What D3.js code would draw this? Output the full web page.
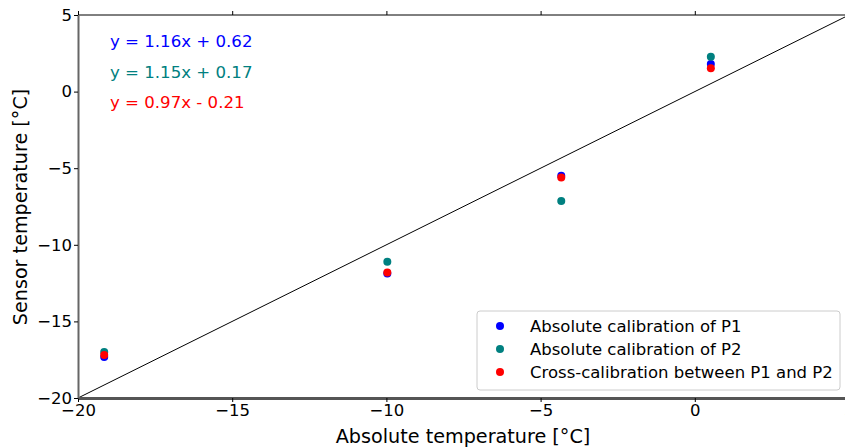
<!DOCTYPE html>
<html><head><meta charset="utf-8">
<script src="https://cdn.jsdelivr.net/npm/d3@7"></script>
<style>body{margin:0;background:#fff;overflow:hidden}svg{display:block}</style>
</head><body>
<script>
const xRefs = [-19.15, -9.97, -4.33, 0.52];
const p1Values = [-17.32, -11.87, -5.5, 1.8];
const p2Values = [-17.0, -11.1, -7.14, 2.28];
const crossValues = [-17.19, -11.8, -5.6, 1.52];
const seriesNames = ["Absolute calibration of P1", "Absolute calibration of P2", "Cross-calibration between P1 and P2"];
const seriesColors = ["#0000ff", "#008080", "#ff0000"];
const fitLabels = ["y = 1.16x + 0.62", "y = 1.15x + 0.17", "y = 0.97x - 0.21"];
const xTicks = [-20, -15, -10, -5, 0, 5];
const yTicks = [-20, -15, -10, -5, 0, 5];

const W = 845, H = 448;
const L = 78, R = 849, T = 15, B = 398;
const font = "DejaVu Sans, sans-serif";
const svg = d3.select("body").append("svg").attr("width", W).attr("height", H);
const x = d3.scaleLinear().domain([-20, 5]).range([L, R]);
const y = d3.scaleLinear().domain([-20, 5]).range([B, T]);
const fmt = d => (d < 0 ? "\u2212" + Math.abs(d) : String(d));

// diagonal y = x
svg.append("line").attr("x1", x(-20)).attr("y1", y(-20)).attr("x2", x(5)).attr("y2", y(5))
  .attr("stroke", "#000").attr("stroke-width", 1);

// points
const series = [p1Values, p2Values, crossValues];
series.forEach((vals, i) => {
  svg.append("g").selectAll("circle").data(vals).join("circle")
    .attr("cx", (d, j) => x(xRefs[j])).attr("cy", d => y(d)).attr("r", 4)
    .attr("fill", seriesColors[i]);
});

// top spine
svg.append("line").attr("x1", L).attr("x2", R).attr("y1", T).attr("y2", T).attr("stroke", "#000").attr("stroke-width", 1);
const xa = d3.axisBottom(x).tickValues(xTicks).tickFormat(fmt).tickSize(4).tickSizeOuter(0);
const gx = svg.append("g").attr("transform", `translate(0,${B})`).call(xa);
gx.select(".domain").attr("stroke", "#555").attr("stroke-width", 3);
gx.selectAll(".tick line").attr("stroke", "#000");
gx.selectAll("text").attr("font-family", font).attr("font-size", 16.5).attr("fill", "#000").attr("dy", "0.75em").attr("y", 6);
const ya = d3.axisLeft(y).tickValues(yTicks).tickFormat(fmt).tickSize(4).tickSizeOuter(0);
const gy = svg.append("g").attr("transform", `translate(${L},0)`).call(ya);
gy.select(".domain").attr("stroke", "#666").attr("stroke-width", 2);
gy.selectAll(".tick line").attr("stroke", "#000");
gy.selectAll("text").attr("font-family", font).attr("font-size", 16.5).attr("fill", "#000").attr("x", -6);
const xt = d3.axisTop(x).tickValues(xTicks).tickFormat("").tickSize(4).tickSizeOuter(0);
const gt = svg.append("g").attr("transform", `translate(0,${T})`).call(xt);
gt.select(".domain").remove();

// fit labels
fitLabels.forEach((t, i) => {
  svg.append("text").attr("x", 110).attr("y", 47 + i * 30.5).text(t)
    .attr("font-family", font).attr("font-size", 16.6).attr("fill", seriesColors[i]);
});

// axis titles
svg.append("text").attr("x", 463).attr("y", 443).attr("text-anchor", "middle")
  .attr("font-family", font).attr("font-size", 19.2).text("Absolute temperature [°C]");
svg.append("text").attr("transform", "translate(27,207) rotate(-90)").attr("text-anchor", "middle")
  .attr("font-family", font).attr("font-size", 19.2).text("Sensor temperature [°C]");

// legend
const lg = svg.append("g");
lg.append("rect").attr("x", 477).attr("y", 311).attr("width", 363).attr("height", 79).attr("rx", 3)
  .attr("fill", "#fff").attr("fill-opacity", 0.9).attr("stroke", "#ccc");
seriesNames.forEach((n, i) => {
  const yy = 326 + i * 23;
  lg.append("circle").attr("cx", 500).attr("cy", yy).attr("r", 4).attr("fill", seriesColors[i]);
  lg.append("text").attr("x", 530).attr("y", yy + 6).text(n)
    .attr("font-family", font).attr("font-size", 16.5).attr("fill", "#000");
});
</script>
</body></html>
